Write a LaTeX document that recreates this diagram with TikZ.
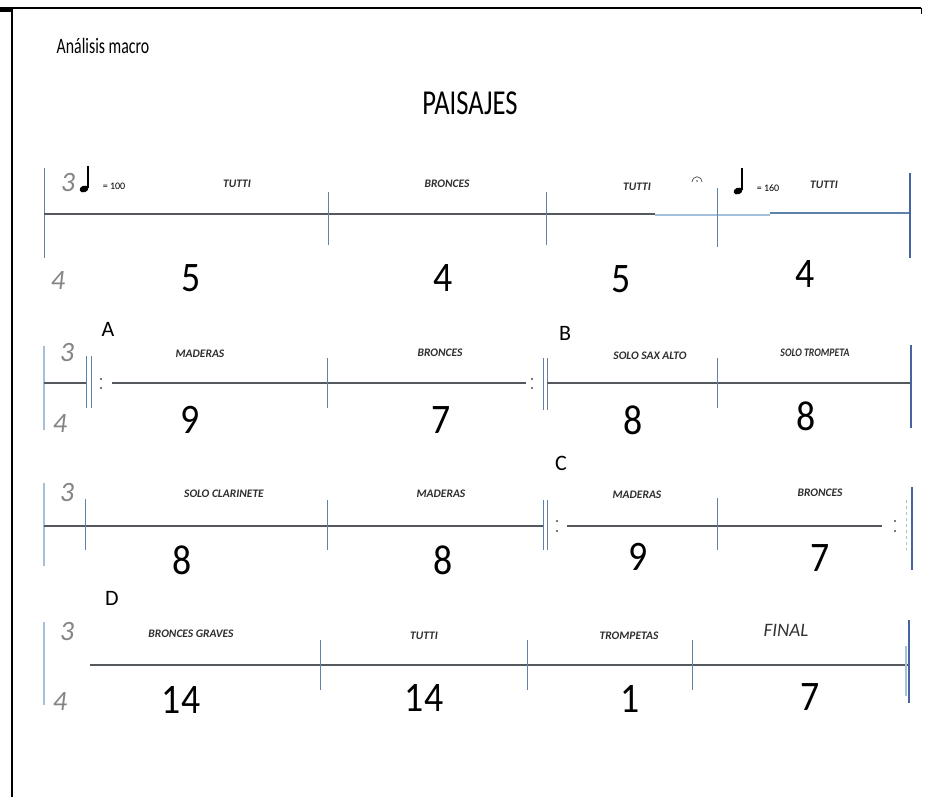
\documentclass[tikz,border=0pt]{standalone}
\usepackage{fontspec}
\usepackage{graphicx}
\setmainfont{Carlito}
\definecolor{barblue}{RGB}{95,130,170}
\definecolor{lightblue}{RGB}{165,192,218}
\definecolor{endblue}{RGB}{70,100,160}
\definecolor{staffgray}{RGB}{85,88,92}
\newcommand{\nmb}[1]{\scalebox{0.9}[1]{#1}}
\begin{document}
\begin{tikzpicture}[x=1pt,y=-1pt,
  staff/.style={draw=staffgray, line width=1.5pt},
  bar/.style={draw=barblue, line width=0.9pt},
  lbar/.style={draw=lightblue, line width=1.1pt},
  endbar/.style={draw=endblue, line width=1.8pt},
  lbl/.style={font=\fontsize{11.5}{11.5}\selectfont\itshape\bfseries, text=black!82, inner sep=0},
  num/.style={font=\fontsize{42}{42}\selectfont, inner sep=0},
  ts/.style={font=\fontsize{28}{28}\selectfont\itshape, text=black!48, inner sep=0},
  reh/.style={font=\fontsize{22}{22}\selectfont, inner sep=0},
  tmp/.style={font=\fontsize{10}{10}\selectfont, inner sep=0},
  rdot/.style={fill=black!70, circle, inner sep=0, minimum size=2.4pt}
]
\path[use as bounding box, fill=white] (0,0) rectangle (925,797);
% frame
\fill[black] (0,7) rectangle (13,12);
\draw[black, line width=1.2pt] (12,8) -- (921,8);
\draw[black, line width=2pt] (12,8) -- (12,797);
\draw[black, line width=1pt] (921,8) -- (921,14);
% headings
\node[inner sep=0, font=\fontsize{22}{22}\selectfont] (hdr) at (103,46) {\scalebox{0.72}[1]{Análisis macro}};
\node[inner sep=0, font=\fontsize{35}{35}\selectfont] (title) at (470,103) {\scalebox{0.76}[1]{PAISAJES}};

% ---------- row 1 ----------
\draw[bar, line width=1pt] (44,168) -- (44,258);
\draw[staff] (44,214) -- (655,214);
\draw[draw=lightblue, line width=1.3pt] (655,215) -- (770,215);
\draw[draw=barblue, line width=1.1pt] (770,213) -- (910,213);
\draw[bar] (328,192) -- (328,245);
\draw[bar] (546,192) -- (546,245);
\draw[bar] (717,188) -- (717,247);
\draw[endbar] (910,173) -- (910,258);
\node[ts] (r1ts3) at (68,183) {3};
\fill[black] (84,189) ellipse [x radius=4.5pt, y radius=3.3pt, rotate=20];
\draw[black, line width=1.2pt] (88,188) -- (88,166);
\node[tmp] (r1tmp) at (114,186) {= 100};
\node[lbl] (r1a) at (237,184) {TUTTI};
\node[lbl] (r1b) at (447,184) {BRONCES};
\node[lbl] (r1c) at (637,187) {TUTTI};
\draw[black!70, line width=0.7pt] (692,182) .. controls (693,175) and (701,175) .. (702,182);
\fill[black!70] (697,181) circle (0.9pt);
\fill[black] (738,191) ellipse [x radius=4.5pt, y radius=3.3pt, rotate=20];
\draw[black, line width=1.2pt] (742,190) -- (742,168);
\node[tmp] (r1tmp2) at (768,188) {= 160};
\node[lbl] (r1d) at (824,185) {TUTTI};
\node[ts] (r1ts4) at (58,281) {4};
\node[num] (r1n1) at (191,278) {\nmb{5}};
\node[num] (r1n2) at (443,278) {\nmb{4}};
\node[num] (r1n3) at (621,279) {\nmb{5}};
\node[num] (r1n4) at (805,274) {\nmb{4}};

% ---------- row 2 ----------
\draw[lbar] (44,346) -- (44,430);
\draw[staff] (44,383) -- (87,383);
\draw[bar] (86,356) -- (86,408);
\draw[bar] (91,356) -- (91,408);
\node[rdot] (r2d1) at (101,379) {};
\node[rdot] (r2d2) at (101,388) {};
\draw[staff] (112,383) -- (526,383);
\draw[bar] (327,358) -- (327,408);
\node[rdot] (r2d3) at (532,379) {};
\node[rdot] (r2d4) at (532,388) {};
\draw[bar] (543,358) -- (543,410);
\draw[bar] (547,358) -- (547,410);
\draw[staff] (547,383) -- (910,383);
\draw[bar] (717,358) -- (717,408);
\draw[endbar] (911,345) -- (911,428);
\node[reh] (A) at (108,329) {A};
\node[reh] (B) at (565,333) {B};
\node[ts] (r2ts3) at (67,353) {3};
\node[ts] (r2ts4) at (60,424) {4};
\node[lbl] (r2a) at (200,354) {MADERAS};
\node[lbl] (r2b) at (440,353) {BRONCES};
\node[lbl] (r2c) at (650,356) {SOLO SAX ALTO};
\node[lbl] (r2d) at (815,353) {\scalebox{0.85}[1]{SOLO TROMPETA}};
\node[num] (r2n1) at (190,420) {\nmb{9}};
\node[num] (r2n2) at (441,420) {\nmb{7}};
\node[num] (r2n3) at (633,420) {\nmb{8}};
\node[num] (r2n4) at (806,416) {\nmb{8}};

% ---------- row 3 ----------
\draw[lbar] (44,483) -- (44,566);
\draw[staff] (44,526) -- (543,526);
\draw[bar] (85,499) -- (85,550);
\draw[bar] (327,500) -- (327,550);
\draw[bar] (543,500) -- (543,550);
\draw[bar] (547,500) -- (547,550);
\node[rdot] (r3d1) at (557,521) {};
\node[rdot] (r3d2) at (557,531) {};
\draw[staff] (567,526) -- (882,526);
\draw[bar] (717,498) -- (717,550);
\node[rdot] (r3d3) at (895,521) {};
\node[rdot] (r3d4) at (895,531) {};
\draw[draw=lightblue, line width=0.8pt, dashed] (906,500) -- (906,550);
\draw[endbar] (912,487) -- (912,570);
\node[reh] (C) at (561,463) {C};
\node[ts] (r3ts3) at (67,493) {3};
\node[lbl] (r3a) at (224,494) {SOLO CLARINETE};
\node[lbl] (r3b) at (441,494) {MADERAS};
\node[lbl] (r3c) at (637,495) {MADERAS};
\node[lbl] (r3d) at (820,493) {BRONCES};
\node[num] (r3n1) at (182,560) {\nmb{8}};
\node[num] (r3n2) at (443,560) {\nmb{8}};
\node[num] (r3n3) at (638,557) {\nmb{9}};
\node[num] (r3n4) at (820,558) {\nmb{7}};

% ---------- row 4 ----------
\draw[lbar] (44,622) -- (44,705);
\draw[staff] (90,665) -- (909,665);
\draw[bar] (320,640) -- (320,690);
\draw[bar] (527,640) -- (527,690);
\draw[bar] (692,640) -- (692,690);
\draw[draw=lightblue, line width=2pt] (906,646) -- (906,696);
\draw[endbar, line width=1.2pt] (909,620) -- (909,703);
\node[reh] (D) at (112,598) {D};
\node[ts] (r4ts3) at (67,632) {3};
\node[ts] (r4ts4) at (60,702) {4};
\node[lbl] (r4a) at (191,634) {BRONCES GRAVES};
\node[lbl] (r4b) at (424,636) {TUTTI};
\node[lbl] (r4c) at (629,636) {TROMPETAS};
\node[inner sep=0, font=\fontsize{19}{19}\selectfont\itshape, text=black!80] (r4d) at (786,630) {FINAL};
\node[num] (r4n1) at (181,700) {\nmb{14}};
\node[num] (r4n2) at (424,698) {\nmb{14}};
\node[num] (r4n3) at (630,699) {\nmb{1}};
\node[num] (r4n4) at (810,697) {\nmb{7}};
\end{tikzpicture}
\end{document}
